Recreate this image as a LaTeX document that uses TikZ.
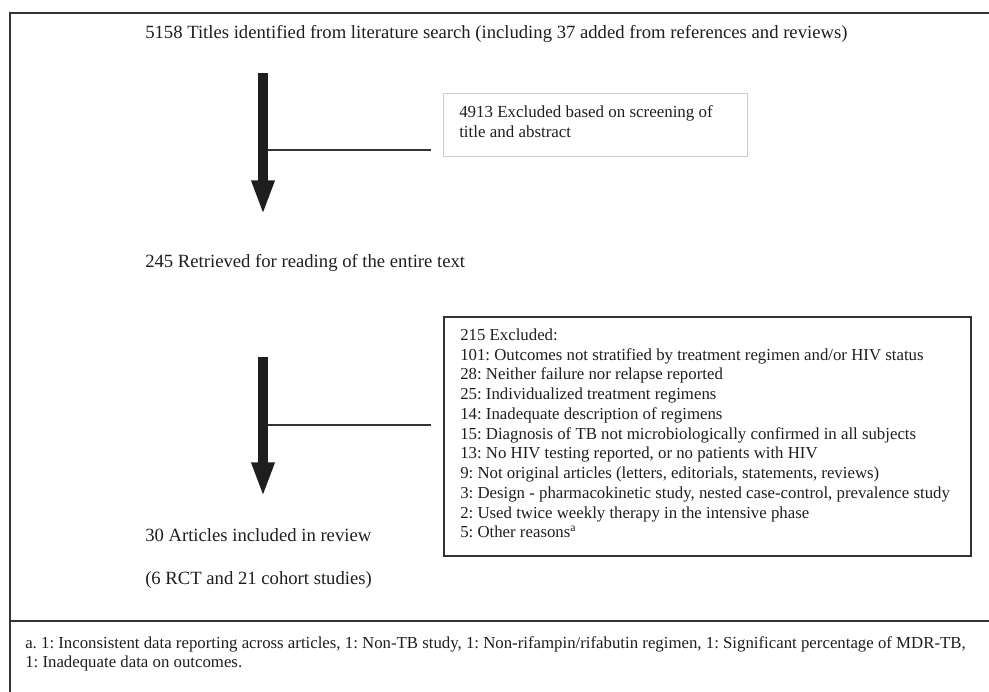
\documentclass[tikz,border=0pt]{standalone}
\usepackage{fontspec}
\setmainfont{Liberation Serif}
\usetikzlibrary{arrows.meta}
\definecolor{ink}{HTML}{1E1E1E}
\definecolor{framec}{HTML}{333333}
\definecolor{lightbox}{HTML}{CCCCCC}
\begin{document}
\frenchspacing
\begin{tikzpicture}[x=0.75pt,y=-0.75pt,
  txt/.style={anchor=west,inner sep=0pt,text=ink,font=\fontsize{14}{16}\selectfont},
  boxtxt/.style={anchor=north west,inner sep=0pt,text=ink,align=left,font=\fontsize{12.7}{14.8}\selectfont},
  bigarrow/.style={line width=7.5pt,ink,-{Triangle[width=15.75pt,length=26pt]}},
  connector/.style={line width=1.1pt,framec},
  frameline/.style={line width=1.3pt,framec}]
\useasboundingbox (0,0) rectangle (989,692);
% outer frame (open on right and bottom)
\draw[frameline] (989,13) -- (10,13) -- (10,692);
\draw[frameline] (10,621) -- (989,621);

% texts
\node[txt] (t1) at (145,34) {5158 Titles identified from literature search (including 37 added from references and reviews)};
\node[txt] (t2) at (145,263) {245 Retrieved for reading of the entire text};
\node[txt] (t3) at (145,535) {30 Articles included in review};
\node[txt] (t4) at (145,580) {(6 RCT and 21 cohort studies)};

% box 1
\node[draw=lightbox,line width=0.8pt,minimum width=304*0.75pt,minimum height=63*0.75pt,anchor=north west,inner sep=0pt] (b1) at (443,93) {};
\node[boxtxt] (b1t) at (459,105.5) {4913 Excluded based on screening of\\title and abstract};

% box 2
\node[draw=framec,line width=1.3pt,minimum width=527*0.75pt,minimum height=239*0.75pt,anchor=north west,inner sep=0pt] (b2) at (443,316) {};
\node[boxtxt,font=\fontsize{12.6}{14.8}\selectfont] (b2t) at (460,328.5) {215 Excluded:\\
101: Outcomes not stratified by treatment regimen and/or HIV status\\
28: Neither failure nor relapse reported\\
25: Individualized treatment regimens\\
14: Inadequate description of regimens\\
15: Diagnosis of TB not microbiologically confirmed in all subjects\\
13: No HIV testing reported, or no patients with HIV\\
9: Not original articles (letters, editorials, statements, reviews)\\
3: Design - pharmacokinetic study, nested case-control, prevalence study\\
2: Used twice weekly therapy in the intensive phase\\
5: Other reasons\textsuperscript{a}};

% arrows
\coordinate (a1s) at (263,73);
\coordinate (a1e) at (263,215);
\coordinate (a1m) at (268,150);
\coordinate (c1) at (431,150);
\draw[bigarrow] (a1s) -- (a1e);
\draw[connector] (a1m) -- (c1);

\coordinate (a2s) at (263,357);
\coordinate (a2e) at (263,497);
\coordinate (a2m) at (268,425);
\coordinate (c2) at (431,425);
\draw[bigarrow] (a2s) -- (a2e);
\draw[connector] (a2m) -- (c2);

% footnote
\node[boxtxt,font=\fontsize{12.6}{14.3}\selectfont] (fn) at (25,636.5) {a. 1: Inconsistent data reporting across articles, 1: Non-TB study, 1: Non-rifampin/rifabutin regimen, 1: Significant percentage of MDR-TB,\\1: Inadequate data on outcomes.};
\end{tikzpicture}
\end{document}
